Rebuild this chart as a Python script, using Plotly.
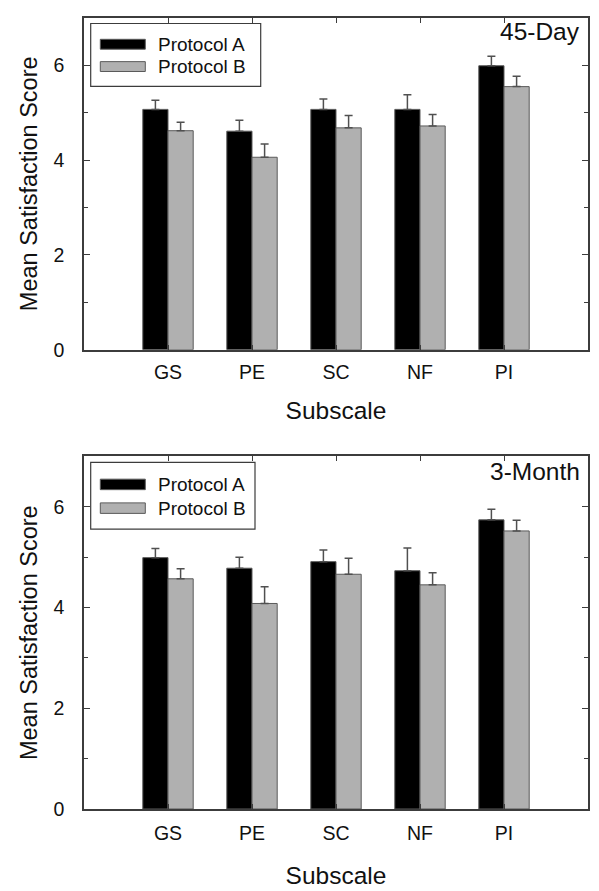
import plotly.graph_objects as go

# ---------------- data ----------------
subscales = ["GS", "PE", "SC", "NF", "PI"]
series_names = ["Protocol A", "Protocol B"]

day45_a = [5.07, 4.61, 5.07, 5.07, 5.99]
day45_a_err = [0.19, 0.23, 0.22, 0.31, 0.20]
day45_b = [4.62, 4.06, 4.68, 4.72, 5.55]
day45_b_err = [0.18, 0.28, 0.26, 0.24, 0.22]

month3_a = [4.99, 4.78, 4.91, 4.73, 5.74]
month3_a_err = [0.18, 0.22, 0.23, 0.45, 0.21]
month3_b = [4.57, 4.08, 4.66, 4.45, 5.52]
month3_b_err = [0.20, 0.33, 0.32, 0.24, 0.21]

panel_labels = ["45-Day", "3-Month"]
y_ticks = [0, 2, 4, 6]

# ---------------- style ----------------
FONT = "Liberation Sans, Arial, sans-serif"
COL_A = "#000000"
COL_B = "#b0b0b0"
EDGE = "#5a5a5a"
FRAME = "#3c3c3c"
TXT = "#111111"
W, H = 599, 891
X0, X1 = 76, 580
panels = [(10, 346), (454, 811)]   # pixel top/bottom of each plot area
xlab_standoff = [4, 6]
xtitle_standoff = [20, 24]

fig = go.Figure()

data_sets = [
    (day45_a, day45_a_err, day45_b, day45_b_err),
    (month3_a, month3_a_err, month3_b, month3_b_err),
]

for i, (a, ae, b, be) in enumerate(data_sets):
    xa = "x" if i == 0 else "x2"
    ya = "y" if i == 0 else "y2"
    for vals, errs, col, name in [(a, ae, COL_A, series_names[0]), (b, be, COL_B, series_names[1])]:
        fig.add_trace(go.Bar(
            x=subscales, y=vals, name=name, xaxis=xa, yaxis=ya,
            marker=dict(color=col, line=dict(color=EDGE, width=1)),
            error_y=dict(type="data", symmetric=False, array=errs,
                         arrayminus=[0] * len(errs), color="#505050",
                         thickness=1.5, width=4),
            showlegend=False, offsetgroup=name,
        ))

axis_common = dict(showline=True, linecolor=FRAME, linewidth=1.5, mirror="ticks",
                   ticks="inside", tickcolor=FRAME, showgrid=False, zeroline=False)

layout = dict(
    width=W, height=H, autosize=False,
    margin=dict(l=0, r=0, t=0, b=0),
    paper_bgcolor="white", plot_bgcolor="white",
    font=dict(family=FONT, color=TXT),
    barmode="group", bargap=0.4, bargroupgap=0,
    showlegend=False,
)

shapes = []
annotations = []
for i, (top, bot) in enumerate(panels):
    sfx = "" if i == 0 else "2"
    ydom = [1 - bot / H, 1 - top / H]
    layout["xaxis" + sfx] = dict(
        axis_common, domain=[X0 / W, X1 / W], anchor="y" + sfx,
        type="category", categoryorder="array", categoryarray=subscales,
        range=[-1, len(subscales)], ticklen=5, tickwidth=1,
        tickfont=dict(size=19.5, family=FONT, color=TXT),
        ticklabelstandoff=xlab_standoff[i],
        title=dict(text="Subscale", font=dict(size=24.5, family=FONT, color=TXT),
                   standoff=xtitle_standoff[i]),
    )
    layout["yaxis" + sfx] = dict(
        axis_common, domain=ydom, anchor="x" + sfx,
        range=[0, 7], tickvals=y_ticks, ticklen=6, tickwidth=1,
        minor=dict(dtick=1, ticks="inside", ticklen=4, tickcolor=FRAME, showgrid=False),
        tickfont=dict(size=19.5, family=FONT, color=TXT),
        ticklabelstandoff=14,
        title=dict(text="Mean Satisfaction Score", font=dict(size=23.5, family=FONT, color=TXT),
                   standoff=9),
    )

    pw = X1 - X0
    ph = bot - top
    xr = "x" + sfx + " domain"
    yr = "y" + sfx + " domain"
    scale = ph / 336.0

    def fx(px):
        return px / pw

    def fy(px):
        return 1 - (px * scale) / ph

    box_right = 176.7 if i == 0 else 171
    # legend box
    shapes.append(dict(type="rect", xref=xr, yref=yr, x0=fx(6.7), x1=fx(box_right),
                       y0=fy(69.3), y1=fy(5.7), line=dict(color=FRAME, width=1.2),
                       fillcolor="white", layer="above"))
    for j, (col, name) in enumerate([(COL_A, series_names[0]), (COL_B, series_names[1])]):
        cy = 26.7 if j == 0 else 49.3
        shapes.append(dict(type="rect", xref=xr, yref=yr, x0=fx(16.3), x1=fx(61.3),
                           y0=fy(cy + 5), y1=fy(cy - 5),
                           line=dict(color=EDGE, width=1), fillcolor=col, layer="above"))
        annotations.append(dict(xref=xr, yref=yr, x=fx(72.3), y=fy(cy), text=name,
                                showarrow=False, xanchor="left", yanchor="middle",
                                font=dict(size=19, family=FONT, color=TXT)))
    annotations.append(dict(xref=xr, yref=yr, x=fx(498), y=fy(14), text=panel_labels[i],
                            showarrow=False, xanchor="right", yanchor="middle",
                            font=dict(size=24.5, family=FONT, color=TXT)))

layout["shapes"] = shapes
layout["annotations"] = annotations
fig.update_layout(**layout)

fig.write_html("out.html")
